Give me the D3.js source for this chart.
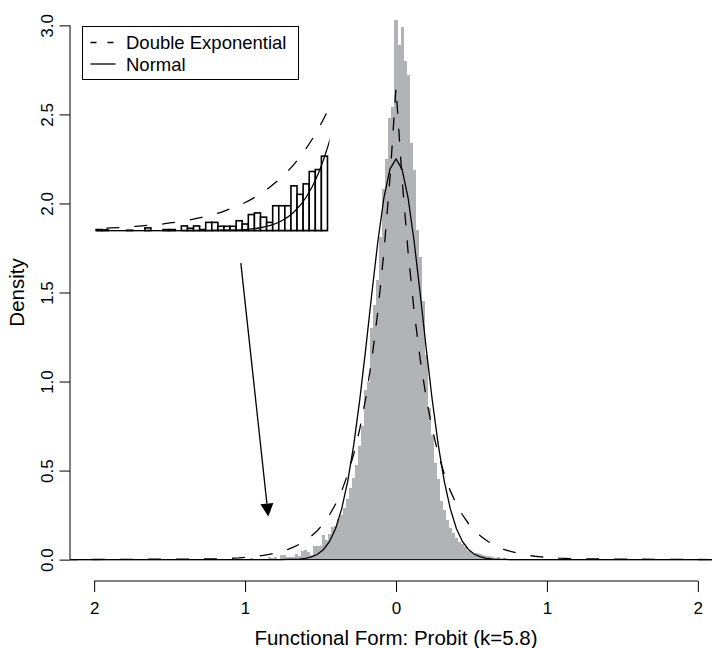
<!DOCTYPE html>
<html>
<head>
<meta charset="utf-8">
<script src="https://cdn.jsdelivr.net/npm/d3@7/dist/d3.min.js"></script>
<style>
  body { margin: 0; background: #fff; }
  svg { display: block; font-family: "Liberation Sans", Arial, Helvetica, sans-serif; }
</style>
</head>
<body>
<div class="container"></div>
<script>
(function(d3) {
  "use strict";

  // histogram densities, bins 0.02 wide from -1.13 upwards
  var binStart = -1.13;
  var binWidth = 0.02;
  var binDensity = [
    0.003, 0.002, 0, 0, 0, 0.001, 0, 0, 0.008, 0,
    0, 0.003, 0.003, 0, 0.014, 0.007, 0.014, 0.003, 0.025, 0.025,
    0.013, 0.013, 0.013, 0.030, 0.020, 0.049, 0.054, 0.041, 0.025, 0.076,
    0.076, 0.076, 0.137, 0.111, 0.143, 0.181, 0.187, 0.228,
    0.25, 0.29, 0.34, 0.40, 0.46, 0.53, 0.64, 0.75, 0.95, 1.00,
    1.30, 1.43, 1.57, 1.81, 2.08, 2.25, 2.48, 2.54,
    3.03,
    2.89, 2.99, 2.80, 2.72, 2.34, 2.19, 1.85, 1.70, 1.45, 1.15,
    0.85, 0.70, 0.54, 0.45, 0.33, 0.28, 0.22, 0.18, 0.15, 0.12,
    0.10, 0.085, 0.07, 0.05, 0.045, 0.04, 0.035, 0.03, 0.025, 0.02,
    0.02, 0.015, 0.01, 0.012, 0.006, 0.008,
    0.004, 0.005, 0.002, 0.003, 0, 0.003, 0.002, 0, 0.001, 0.002,
    0, 0, 0.003, 0, 0.006, 0.006, 0, 0.001, 0, 0.002
  ];

  // fitted densities, read every 0.04 between -1.2 and 1.2
  var curveX = [
    -2.2,
    -1.20, -1.16, -1.12, -1.08, -1.04, -1.00, -0.96, -0.92, -0.88, -0.84,
    -0.80, -0.76, -0.72, -0.68, -0.64, -0.60, -0.56, -0.52, -0.48, -0.44,
    -0.40, -0.36, -0.32, -0.28, -0.24, -0.20, -0.16, -0.12, -0.08, -0.04,
    0,
    0.04, 0.08, 0.12, 0.16, 0.20, 0.24, 0.28, 0.32, 0.36, 0.40,
    0.44, 0.48, 0.52, 0.56, 0.60, 0.64, 0.68, 0.72, 0.76, 0.80,
    0.84, 0.88, 0.92, 0.96, 1.00, 1.04, 1.08, 1.12, 1.16, 1.20,
    2.2
  ];
  var laplaceY = [
    0,
    0.004, 0.005, 0.007, 0.008, 0.010, 0.013, 0.016, 0.019, 0.024, 0.030,
    0.037, 0.046, 0.056, 0.070, 0.086, 0.107, 0.133, 0.164, 0.203, 0.252,
    0.312, 0.386, 0.479, 0.593, 0.734, 0.909, 1.126, 1.395, 1.728, 2.140,
    2.650,
    2.140, 1.728, 1.395, 1.126, 0.909, 0.734, 0.593, 0.479, 0.386, 0.312,
    0.252, 0.203, 0.164, 0.133, 0.107, 0.086, 0.070, 0.056, 0.046, 0.037,
    0.030, 0.024, 0.019, 0.016, 0.013, 0.010, 0.008, 0.007, 0.005, 0.004,
    0
  ];
  var normalY = [
    0,
    0, 0, 0, 0, 0, 0, 0, 0, 0, 0,
    0, 0, 0.001, 0.001, 0.003, 0.007, 0.015, 0.030, 0.057, 0.102,
    0.175, 0.285, 0.439, 0.644, 0.898, 1.188, 1.496, 1.788, 2.032, 2.193,
    2.250,
    2.193, 2.032, 1.788, 1.496, 1.188, 0.898, 0.644, 0.439, 0.285, 0.175,
    0.102, 0.057, 0.030, 0.015, 0.007, 0.003, 0.001, 0.001, 0, 0,
    0, 0, 0, 0, 0, 0, 0, 0, 0, 0,
    0
  ];

  var xTicks = [-2, -1, 0, 1, 2];
  var xTickLabels = ["2", "1", "0", "1", "2"];
  var yTicks = [0, 0.5, 1, 1.5, 2, 2.5, 3];

  var legendLabels = ["Double Exponential", "Normal"];

  // inset: left tail magnified, placed in the empty upper left
  var insetDomain = [-1.13, -0.37];
  var insetSpot = [-1.987, -0.454];   // where it sits, in x units
  var insetBase = 1.848;              // its baseline, in density units
  var insetStretch = 1.831;

  var arrowFrom = [-1.028, 1.665];
  var arrowTo = [-0.846, 0.242];

  var W = 712, H = 648;
  var dashPattern = "13,15";

  var svg = d3.select(".container").append("svg")
      .attr("width", W)
      .attr("height", H);

  var x = d3.scaleLinear().domain([-2.16, 2.16]).range([70, 722]);
  var y = d3.scaleLinear().domain([-0.12, 3.12]).range([581, 4]);

  svg.append("clipPath")
      .attr("id", "plot-clip")
    .append("rect")
      .attr("x", x.range()[0])
      .attr("y", y.range()[1])
      .attr("width", x.range()[1] - x.range()[0])
      .attr("height", y.range()[0] - y.range()[1]);

  var bins = binDensity.map(function(d, i) {
    return { x0: binStart + i * binWidth, x1: binStart + (i + 1) * binWidth, d: d };
  });

  var plot = svg.append("g").attr("clip-path", "url(#plot-clip)");

  plot.append("g")
      .attr("class", "hist")
    .selectAll("rect")
      .data(bins.filter(function(b) { return b.d > 0; }))
    .enter().append("rect")
      .attr("x", function(b) { return x(b.x0); })
      .attr("width", function(b) { return x(b.x1) - x(b.x0); })
      .attr("y", function(b) { return y(b.d); })
      .attr("height", function(b) { return y(0) - y(b.d); })
      .attr("fill", "#b2b3b7")
      .attr("shape-rendering", "crispEdges");

  plot.append("line")
      .attr("x1", x.range()[0])
      .attr("x2", x.range()[1])
      .attr("y1", y(0))
      .attr("y2", y(0))
      .attr("stroke", "#000")
      .attr("stroke-width", 1);

  var laplacePts = curveX.map(function(u, i) { return [u, laplaceY[i]]; });
  var normalPts = curveX.map(function(u, i) { return [u, normalY[i]]; });

  var mainLine = d3.line()
      .x(function(p) { return x(p[0]); })
      .y(function(p) { return y(p[1]); });

  plot.append("path")
      .attr("d", mainLine(laplacePts))
      .attr("fill", "none")
      .attr("stroke", "#000")
      .attr("stroke-width", 1.3)
      .attr("stroke-dasharray", dashPattern);

  plot.append("path")
      .attr("d", mainLine(normalPts))
      .attr("fill", "none")
      .attr("stroke", "#000")
      .attr("stroke-width", 1.3);

  // axes
  var xAxis = svg.append("g")
      .attr("transform", svgTranslateString(0, y.range()[0]))
      .call(d3.axisBottom(x)
        .tickValues(xTicks)
        .tickFormat(function(d, i) { return xTickLabels[i]; })
        .tickSize(11)
        .tickSizeOuter(0)
        .tickPadding(10));
  xAxis.select(".domain").attr("d", "M" + x(xTicks[0]) + ",0H" + x(xTicks[xTicks.length - 1]));

  var yAxis = svg.append("g")
      .attr("transform", svgTranslateString(x.range()[0], 0))
      .call(d3.axisLeft(y)
        .tickValues(yTicks)
        .tickFormat(d3.format(".1f"))
        .tickSize(10.5)
        .tickSizeOuter(0));
  yAxis.select(".domain").attr("d", "M0," + y(yTicks[0]) + "V" + y(yTicks[yTicks.length - 1]));
  yAxis.selectAll(".tick text")
      .attr("x", null)
      .attr("dy", null)
      .attr("text-anchor", "middle")
      .attr("transform", "translate(-17,0) rotate(-90)");

  [xAxis, yAxis].forEach(function(a) {
    a.attr("font-family", null);
    a.selectAll("text").attr("font-size", 17).attr("fill", "#000");
    a.selectAll("line, path").attr("stroke", "#000").attr("stroke-width", 1);
  });

  svg.append("text")
      .attr("x", (x.range()[0] + x.range()[1]) / 2)
      .attr("y", 645)
      .attr("text-anchor", "middle")
      .attr("font-size", 20.5)
      .text("Functional Form: Probit (k=5.8)");

  svg.append("text")
      .attr("transform", svgTranslateString(24, (y.range()[0] + y.range()[1]) / 2) + " rotate(-90)")
      .attr("text-anchor", "middle")
      .attr("font-size", 20.5)
      .text("Density");

  // inset
  var inX = d3.scaleLinear().domain(insetDomain).range([x(insetSpot[0]), x(insetSpot[1])]);
  var inY = d3.scaleLinear().domain([0, 0.4]).range([y(insetBase), y(insetBase + 0.4 * insetStretch)]);

  svg.append("clipPath")
      .attr("id", "inset-clip")
    .append("rect")
      .attr("x", inX.range()[0])
      .attr("y", 0)
      .attr("width", inX.range()[1] - inX.range()[0] + 2)
      .attr("height", inY(0) + 1);

  var inset = svg.append("g").attr("class", "inset");

  var tail = bins.filter(function(b) {
    return b.x0 >= insetDomain[0] - 1e-9 && b.x1 <= insetDomain[1] + 1e-9;
  });

  inset.selectAll("rect")
      .data(tail.filter(function(b) { return b.d > 0; }))
    .enter().append("rect")
      .attr("x", function(b) { return inX(b.x0); })
      .attr("width", function(b) { return inX(b.x1) - inX(b.x0); })
      .attr("y", function(b) { return inY(b.d); })
      .attr("height", function(b) { return inY(0) - inY(b.d); })
      .attr("fill", "#fff")
      .attr("stroke", "#000")
      .attr("stroke-width", 1.6);

  inset.append("line")
      .attr("x1", inX.range()[0])
      .attr("x2", inX.range()[1])
      .attr("y1", inY(0))
      .attr("y2", inY(0))
      .attr("stroke", "#000")
      .attr("stroke-width", 1.2);

  var insetLine = d3.line()
      .x(function(p) { return inX(p[0]); })
      .y(function(p) { return inY(p[1]); })
      .curve(d3.curveMonotoneX);

  var insetCurves = inset.append("g").attr("clip-path", "url(#inset-clip)");

  insetCurves.append("path")
      .attr("d", insetLine(laplacePts))
      .attr("fill", "none")
      .attr("stroke", "#000")
      .attr("stroke-width", 1.3)
      .attr("stroke-dasharray", dashPattern);

  insetCurves.append("path")
      .attr("d", insetLine(normalPts))
      .attr("fill", "none")
      .attr("stroke", "#000")
      .attr("stroke-width", 1.3);

  // arrow from the inset down to the tail
  var ax0 = x(arrowFrom[0]), ay0 = y(arrowFrom[1]);
  var ax1 = x(arrowTo[0]), ay1 = y(arrowTo[1]);
  var ang = Math.atan2(ay1 - ay0, ax1 - ax0);
  var headLen = 13, headHalf = 6.5;
  var bx = ax1 - headLen * Math.cos(ang), by = ay1 - headLen * Math.sin(ang);

  svg.append("line")
      .attr("x1", ax0)
      .attr("y1", ay0)
      .attr("x2", bx)
      .attr("y2", by)
      .attr("stroke", "#000")
      .attr("stroke-width", 1.3);

  svg.append("path")
      .attr("d", "M" + ax1 + "," + ay1 +
        "L" + (bx + headHalf * Math.sin(ang)) + "," + (by - headHalf * Math.cos(ang)) +
        "L" + (bx - headHalf * Math.sin(ang)) + "," + (by + headHalf * Math.cos(ang)) + "Z")
      .attr("fill", "#000");

  // legend
  var legend = svg.append("g")
      .attr("class", "legend")
      .attr("transform", svgTranslateString(82.5, 26.5));

  legend.append("rect")
      .attr("width", 216)
      .attr("height", 53)
      .attr("fill", "#fff")
      .attr("stroke", "#000")
      .attr("stroke-width", 1);

  var item = legend.selectAll(".item")
      .data(legendLabels)
    .enter().append("g")
      .attr("class", "item")
      .attr("transform", function(d, i) { return svgTranslateString(0, 16 + i * 21.5); });

  item.append("line")
      .attr("x1", 8)
      .attr("x2", 33)
      .attr("stroke", "#000")
      .attr("stroke-width", 1.3)
      .attr("stroke-dasharray", function(d, i) { return i === 0 ? "6,11" : null; });

  item.append("text")
      .attr("x", 43.5)
      .attr("dy", 6.5)
      .attr("font-size", 18.5)
      .text(function(d) { return d; });

  function svgTranslateString(tx, ty) {
    return "translate(" + tx + "," + ty + ")";
  }

}(d3));
</script>
</body>
</html>
